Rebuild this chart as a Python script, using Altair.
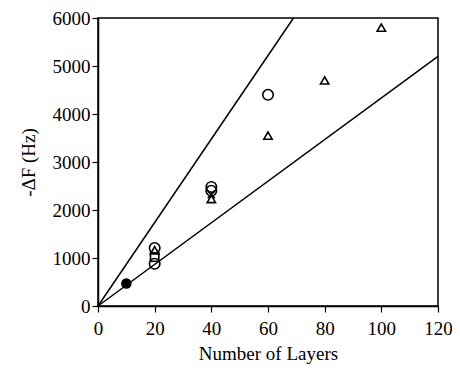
import altair as alt
import pandas as pd

# Fitted lines
line_x = [0, 69, 0, 120]
line_y = [0, 6000, 0, 5200]
line_id = ["steep", "steep", "shallow", "shallow"]

# Open circles
circ_x = [20, 20, 40, 40, 60]
circ_y = [1210, 880, 2480, 2400, 4400]
# Open triangles
tri_x = [20, 40, 60, 80, 100]
tri_y = [1160, 2230, 3550, 4700, 5800]
# Open squares
sq_x = [20]
sq_y = [1020]
# Crosses
cr_x = [40]
cr_y = [2320]
# Filled circle
fc_x = [10]
fc_y = [470]

FONT = "Liberation Serif"

xs = alt.Scale(domain=[0, 120], nice=False)
ys = alt.Scale(domain=[0, 6000], nice=False)

xaxis = alt.Axis(title="Number of Layers", values=list(range(0, 121, 10)),
                 labelExpr="datum.value % 20 === 0 ? datum.label : ''",
                 tickSize={"condition": {"test": "datum.value % 20 === 0", "value": 6}, "value": 3},
                 grid=False, labelFontSize=19, titleFontSize=19, labelFont=FONT, titleFont=FONT,
                 labelColor="black", titleColor="black", domainColor="black", tickColor="black",
                 labelPadding=7, titlePadding=6, titleFontWeight="normal", labelFlush=False)
yaxis = alt.Axis(title="-ΔF (Hz)", values=list(range(0, 6001, 500)),
                 labelExpr="datum.value % 1000 === 0 ? datum.label : ''",
                 format="d",
                 tickSize={"condition": {"test": "datum.value % 1000 === 0", "value": 6}, "value": 3},
                 grid=False, labelFontSize=19, titleFontSize=19, labelFont=FONT, titleFont=FONT,
                 labelColor="black", titleColor="black", domainColor="black", tickColor="black",
                 labelPadding=2, titlePadding=14, titleFontWeight="normal", labelFlush=False)

lines_df = pd.DataFrame({"x": line_x, "y": line_y, "id": line_id})
lines = alt.Chart(lines_df).mark_line(color="black", strokeWidth=1.5).encode(
    x=alt.X("x:Q", scale=xs, axis=xaxis),
    y=alt.Y("y:Q", scale=ys, axis=yaxis),
    detail="id:N",
)

def pts(xv, yv, shape, size, filled=False):
    df = pd.DataFrame({"x": xv, "y": yv})
    m = alt.Chart(df).mark_point(shape=shape, size=size, filled=filled, color="black",
                                 strokeWidth=1.6, opacity=1)
    return m.encode(x=alt.X("x:Q", scale=xs), y=alt.Y("y:Q", scale=ys))

layers = [
    lines,
    pts(circ_x, circ_y, "circle", 110),
    pts(tri_x, tri_y, "triangle-up", 70),
    pts(sq_x, sq_y, "square", 70),
    pts(cr_x, cr_y, "M-1,-1L1,1M-1,1L1,-1", 50),
    pts(fc_x, fc_y, "circle", 110, filled=True),
]

chart = alt.layer(*layers).properties(
    width=340, height=288,
    padding={"left": 90, "top": 10, "right": 14, "bottom": 59},
    autosize=alt.AutoSizeParams(type="none"),
).configure_view(stroke="black", strokeWidth=1.5).configure_axis(domainWidth=1.5, tickWidth=1.2)

chart.save("out.html", embed_options={"renderer": "svg", "actions": False})
